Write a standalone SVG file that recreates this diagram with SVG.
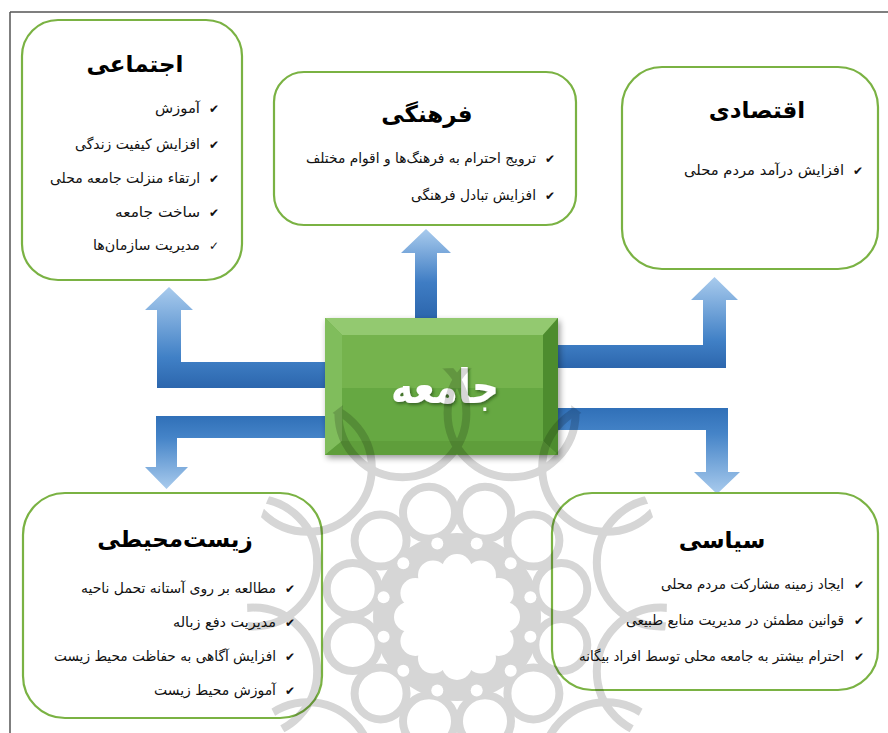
<svg xmlns="http://www.w3.org/2000/svg" width="888" height="733" viewBox="0 0 888 733">
<defs>
<style>
.box{fill:#fff;stroke:#7ab243;stroke-width:2.2}
.title{font-family:"DejaVu Sans",sans-serif;font-weight:bold;font-size:23px;text-anchor:middle;fill:#000}
.item{font-family:"DejaVu Sans",sans-serif;font-size:14px;text-anchor:end;fill:#111}
.chk{font-family:"DejaVu Sans",sans-serif;font-size:12px;text-anchor:middle;fill:#111}
.wm{fill:none;stroke:#000;stroke-width:8}
.wf{fill:#fff}
</style>
<linearGradient id="gTop" gradientUnits="userSpaceOnUse" x1="0" y1="318" x2="0" y2="229">
<stop offset="0" stop-color="#2c66ad"/><stop offset="0.4" stop-color="#3f7dc4"/><stop offset="1" stop-color="#a9cbed"/>
</linearGradient>
<linearGradient id="gLU" gradientUnits="userSpaceOnUse" x1="0" y1="388" x2="0" y2="287">
<stop offset="0" stop-color="#2c66ad"/><stop offset="0.3" stop-color="#4080c6"/><stop offset="1" stop-color="#a9cbed"/>
</linearGradient>
<linearGradient id="gRU" gradientUnits="userSpaceOnUse" x1="0" y1="368" x2="0" y2="277">
<stop offset="0" stop-color="#2c66ad"/><stop offset="0.3" stop-color="#4080c6"/><stop offset="1" stop-color="#a9cbed"/>
</linearGradient>
<linearGradient id="gLD" gradientUnits="userSpaceOnUse" x1="0" y1="416" x2="0" y2="489">
<stop offset="0" stop-color="#3070b8"/><stop offset="0.3" stop-color="#4584c8"/><stop offset="1" stop-color="#a9cbed"/>
</linearGradient>
<linearGradient id="gRD" gradientUnits="userSpaceOnUse" x1="0" y1="408" x2="0" y2="494">
<stop offset="0" stop-color="#3070b8"/><stop offset="0.3" stop-color="#4584c8"/><stop offset="1" stop-color="#a9cbed"/>
</linearGradient>
<filter id="sh" x="-10%" y="-10%" width="125%" height="130%">
<feGaussianBlur in="SourceAlpha" stdDeviation="3"/><feOffset dx="2" dy="3" result="b"/>
<feComponentTransfer><feFuncA type="linear" slope="0.4"/></feComponentTransfer>
<feMerge><feMergeNode/><feMergeNode in="SourceGraphic"/></feMerge>
</filter>
<filter id="tsh" x="-20%" y="-20%" width="140%" height="150%">
<feDropShadow dx="1.5" dy="2" stdDeviation="1.5" flood-color="#1e4010" flood-opacity="0.6"/>
</filter>
<clipPath id="wclip"><ellipse cx="457" cy="600" rx="210" ry="232"/></clipPath>
</defs>
<rect width="888" height="733" fill="#fff"/>
<path d="M10,12 H888 M10,12 V733" fill="none" stroke="#555" stroke-width="1.5"/>

<g id="connectors">
<path d="M415,318 L415,253 L401,253 L426,229 L451,253 L437,253 L437,318 Z" fill="url(#gTop)"/>
<path d="M325,362 L181,362 L181,310 L193,310 L169,287 L145,310 L157,310 L157,388 L325,388 Z" fill="url(#gLU)"/>
<path d="M325,416 L156,416 L156,467 L145,467 L166.5,489 L188,467 L177,467 L177,438 L325,438 Z" fill="url(#gLD)"/>
<path d="M558,345 L703,345 L703,300 L691,300 L714.5,277 L738,300 L726,300 L726,368 L558,368 Z" fill="url(#gRU)"/>
<path d="M558,408 L728,408 L728,472 L740,472 L717,494 L694,472 L706,472 L706,430 L558,430 Z" fill="url(#gRD)"/>
</g>

<g id="node-ejtemaei">
<rect class="box" x="22" y="20" width="220" height="260" rx="36"/>
<text class="title" x="135" y="72">اجتماعی</text>
<text class="chk" x="214" y="113">✔</text><text class="item" x="200" y="113" textLength="45" lengthAdjust="spacingAndGlyphs">آموزش</text>
<text class="chk" x="214" y="149">✔</text><text class="item" x="200" y="149" textLength="125" lengthAdjust="spacingAndGlyphs">افزایش کیفیت زندگی</text>
<text class="chk" x="214" y="183">✔</text><text class="item" x="200" y="183" textLength="150" lengthAdjust="spacingAndGlyphs">ارتقاء منزلت جامعه محلی</text>
<text class="chk" x="214" y="217">✔</text><text class="item" x="200" y="217" textLength="85" lengthAdjust="spacingAndGlyphs">ساخت جامعه</text>
<text class="chk" x="214" y="250">✓</text><text class="item" x="200" y="250" textLength="107" lengthAdjust="spacingAndGlyphs">مدیریت سازمان‌ها</text>
</g>

<g id="node-farhangi">
<rect class="box" x="274" y="72" width="302" height="153" rx="30"/>
<text class="title" x="427" y="122">فرهنگی</text>
<text class="chk" x="550" y="163">✔</text><text class="item" x="536" y="163" textLength="230" lengthAdjust="spacingAndGlyphs">ترویج احترام به فرهنگ‌ها و اقوام مختلف</text>
<text class="chk" x="550" y="200">✔</text><text class="item" x="536" y="200" textLength="125" lengthAdjust="spacingAndGlyphs">افزایش تبادل فرهنگی</text>
</g>

<g id="node-eghtesadi">
<rect class="box" x="622" y="67" width="256" height="202" rx="40"/>
<text class="title" x="757" y="118">اقتصادی</text>
<text class="chk" x="858" y="175">✔</text><text class="item" x="844" y="175" textLength="160" lengthAdjust="spacingAndGlyphs">افزایش درآمد مردم محلی</text>
</g>

<g id="node-zistmohiti">
<rect class="box" x="23" y="493" width="299" height="225" rx="42"/>
<text class="title" x="175" y="547">زیست‌محیطی</text>
<text class="chk" x="290" y="593">✔</text><text class="item" x="276" y="593" textLength="195" lengthAdjust="spacingAndGlyphs">مطالعه بر روی آستانه تحمل ناحیه</text>
<text class="chk" x="290" y="627">✔</text><text class="item" x="276" y="627" textLength="103" lengthAdjust="spacingAndGlyphs">مدیریت دفع زباله</text>
<text class="chk" x="290" y="661">✔</text><text class="item" x="276" y="661" textLength="222" lengthAdjust="spacingAndGlyphs">افزایش آگاهی به حفاظت محیط زیست</text>
<text class="chk" x="290" y="695">✔</text><text class="item" x="276" y="695" textLength="122" lengthAdjust="spacingAndGlyphs">آموزش محیط زیست</text>
</g>

<g id="node-siasi">
<rect class="box" x="552" y="493" width="326" height="197" rx="40"/>
<text class="title" x="722" y="548">سیاسی</text>
<text class="chk" x="859" y="589">✔</text><text class="item" x="844" y="589" textLength="183" lengthAdjust="spacingAndGlyphs">ایجاد زمینه مشارکت مردم محلی</text>
<text class="chk" x="859" y="625">✔</text><text class="item" x="844" y="625" textLength="218" lengthAdjust="spacingAndGlyphs">قوانین مطمئن در مدیریت منابع طبیعی</text>
<text class="chk" x="859" y="661">✔</text><text class="item" x="844" y="661" textLength="265" lengthAdjust="spacingAndGlyphs">احترام بیشتر به جامعه محلی توسط افراد بیگانه</text>
</g>

<g id="node-jameeh">
<g filter="url(#sh)">
<rect x="325" y="318" width="233" height="137" fill="#6aac44"/>
<polygon points="325,318 558,318 543,335 342,335" fill="#93c96f"/>
<polygon points="325,318 342,335 342,441 325,455" fill="#80bd5c"/>
<polygon points="558,318 558,455 543,441 543,335" fill="#4e8c2f"/>
<polygon points="325,455 342,441 543,441 558,455" fill="#5e9e3b"/>
<rect x="342" y="335" width="201" height="53" fill="#74b34d"/>
<rect x="342" y="388" width="201" height="53" fill="#66a842"/>
</g>
<text x="445" y="403" font-family="DejaVu Sans, sans-serif" font-weight="bold" font-size="47" text-anchor="middle" fill="#fff" filter="url(#tsh)" textLength="108" lengthAdjust="spacingAndGlyphs">جامعه</text>
</g>

<g id="watermark" opacity="0.16" clip-path="url(#wclip)">
<circle class="wm" cx="660.8" cy="671.6" r="64"/>
<circle class="wm" cx="606.2" cy="766.2" r="64"/>
<circle class="wm" cx="511.6" cy="820.8" r="64"/>
<circle class="wm" cx="402.4" cy="820.8" r="64"/>
<circle class="wm" cx="307.8" cy="766.2" r="64"/>
<circle class="wm" cx="253.2" cy="671.6" r="64"/>
<circle class="wm" cx="253.2" cy="562.4" r="64"/>
<circle class="wm" cx="307.8" cy="467.8" r="64"/>
<circle class="wm" cx="402.4" cy="413.2" r="64"/>
<circle class="wm" cx="511.6" cy="413.2" r="64"/>
<circle class="wm" cx="606.2" cy="467.8" r="64"/>
<circle class="wm" cx="660.8" cy="562.4" r="64"/>
<circle class="wm" cx="561.3" cy="645" r="26"/>
<circle class="wm" cx="533.4" cy="693.4" r="26"/>
<circle class="wm" cx="485" cy="721.3" r="26"/>
<circle class="wm" cx="429" cy="721.3" r="26"/>
<circle class="wm" cx="380.6" cy="693.4" r="26"/>
<circle class="wm" cx="352.7" cy="645" r="26"/>
<circle class="wm" cx="352.7" cy="589" r="26"/>
<circle class="wm" cx="380.6" cy="540.6" r="26"/>
<circle class="wm" cx="429" cy="512.7" r="26"/>
<circle class="wm" cx="485" cy="512.7" r="26"/>
<circle class="wm" cx="533.4" cy="540.6" r="26"/>
<circle class="wm" cx="561.3" cy="589" r="26"/>
<circle cx="457" cy="617" r="84" fill="#000"/>
<circle class="wf" cx="457" cy="617" r="46"/>
<circle class="wf" cx="505" cy="617" r="15"/>
<circle class="wf" cx="498.6" cy="641" r="15"/>
<circle class="wf" cx="481" cy="658.6" r="15"/>
<circle class="wf" cx="457" cy="665" r="15"/>
<circle class="wf" cx="433" cy="658.6" r="15"/>
<circle class="wf" cx="415.4" cy="641" r="15"/>
<circle class="wf" cx="409" cy="617" r="15"/>
<circle class="wf" cx="415.4" cy="593" r="15"/>
<circle class="wf" cx="433" cy="575.4" r="15"/>
<circle class="wf" cx="457" cy="569" r="15"/>
<circle class="wf" cx="481" cy="575.4" r="15"/>
<circle class="wf" cx="498.6" cy="593" r="15"/>
<circle class="wf" cx="530.4" cy="636.7" r="6"/>
<circle class="wf" cx="510.7" cy="670.7" r="6"/>
<circle class="wf" cx="476.7" cy="690.4" r="6"/>
<circle class="wf" cx="437.3" cy="690.4" r="6"/>
<circle class="wf" cx="403.3" cy="670.7" r="6"/>
<circle class="wf" cx="383.6" cy="636.7" r="6"/>
<circle class="wf" cx="383.6" cy="597.3" r="6"/>
<circle class="wf" cx="403.3" cy="563.3" r="6"/>
<circle class="wf" cx="437.3" cy="543.6" r="6"/>
<circle class="wf" cx="476.7" cy="543.6" r="6"/>
<circle class="wf" cx="510.7" cy="563.3" r="6"/>
<circle class="wf" cx="530.4" cy="597.3" r="6"/>
</g>
</svg>
